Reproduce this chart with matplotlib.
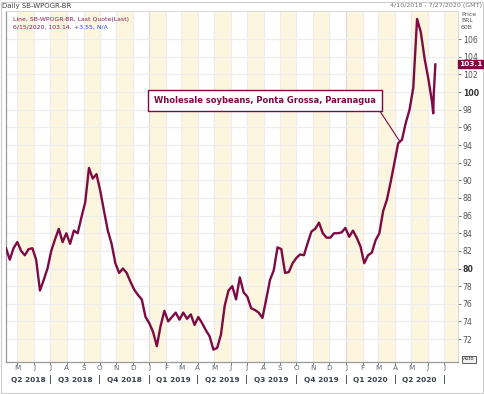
import numpy as np
import matplotlib.pyplot as plt
import matplotlib.transforms as mtransforms
import pandas as pd

# weekly closes (BRL per 60kg bag), first one on 2018-04-10
first_day = "2018-04-10"
last_day = "2020-07-27"
weekly_close = [82.3, 81.0, 82.3, 83.0, 82.0, 81.5, 82.2, 82.3, 81.0, 77.5,
                78.7, 80.0, 82.0, 83.3, 84.5, 83.0, 84.0, 82.8, 84.3, 84.0,
                85.8, 87.5, 91.4, 90.2, 90.7, 88.8, 86.5, 84.3, 82.8, 80.6,
                79.5, 80.0, 79.5, 78.5, 77.6, 77.0, 76.5, 74.5, 73.8, 72.8,
                71.2, 73.5, 75.2, 74.0, 74.5, 75.0, 74.2, 75.0, 74.3, 74.8,
                73.6, 74.5, 73.8, 73.0, 72.3, 70.8, 71.0, 72.5, 75.8, 77.5,
                78.0, 76.5, 79.0, 77.3, 76.8, 75.5, 75.3, 75.0, 74.4, 76.5,
                78.7, 79.8, 82.4, 82.2, 79.5, 79.6, 80.6, 81.2, 81.6, 81.5,
                82.9, 84.2, 84.5, 85.2, 84.0, 83.5, 83.5, 84.0, 84.0, 84.1,
                84.6, 83.6, 84.3, 83.5, 82.5, 80.6, 81.5, 81.8, 83.2, 84.0,
                86.5, 87.8, 89.8, 92.0, 94.2, 94.6, 96.5, 98.0, 100.5, 108.3,
                106.8, 103.8, 101.5, 98.8]
tail_dates = ["2020-06-11", "2020-06-12", "2020-06-15"]
tail_close = [97.6, 99.8, 103.14]

y_ticks = list(range(72, 107, 2))
bold_ticks = [80, 100]
quarter_names = ["Q2 2018", "Q3 2018", "Q4 2018", "Q1 2019", "Q2 2019",
                 "Q3 2019", "Q4 2019", "Q1 2020", "Q2 2020"]
note_text = "Wholesale soybeans, Ponta Grossa, Paranagua"
note_date = "2020-04-10"
note_value = 94.4

maroon = "#7d0a42"
shade = "#fdf6df"

dates = list(pd.date_range(first_day, periods=len(weekly_close), freq="7D")) + list(pd.to_datetime(tail_dates))
close = weekly_close + tail_close
df = pd.DataFrame({"date": dates, "close": close})

W, H = 484, 394
fig = plt.figure(figsize=(W / 100, H / 100), dpi=100)
fig.patch.set_facecolor("white")
ax = fig.add_axes([6 / W, 32 / H, 452 / W, 351 / H])

x0 = pd.Timestamp(first_day)
x1 = pd.Timestamp(last_day)
months = pd.date_range("2018-05-01", "2020-07-01", freq="MS")

# alternate month shading
for m in months:
    if m.month % 2 == 1:
        ax.axvspan(m, m + pd.offsets.MonthBegin(1), color=shade, lw=0, zorder=0)

for m in months:
    ax.axvline(m, color="#dcdcdc" if m.month == 1 else "#ededed", lw=0.9, zorder=1)
for v in y_ticks:
    ax.axhline(v, color="#ededed", lw=0.9, zorder=1)

ax.plot(df["date"], df["close"], color=maroon, lw=1.7, zorder=3)

ax.set_xlim(x0, x1)
ax.set_ylim(69.4, 109.2)

ax.set_xticks(months)
ax.set_xticklabels([m.strftime("%b")[0] for m in months])
ax.tick_params(axis="x", length=2, width=0.7, color="#777777", labelsize=5.2,
               labelcolor="#5a6478", pad=0.5)
ax.yaxis.tick_right()
ax.set_yticks(y_ticks)
ax.set_yticklabels([str(v) for v in y_ticks])
ax.tick_params(axis="y", length=2.5, width=0.7, color="#777777", labelsize=5.6,
               labelcolor="#555555", pad=1)
for lab, v in zip(ax.get_yticklabels(), y_ticks):
    if v in bold_ticks:
        lab.set_fontweight("bold")
        lab.set_color("#333333")

for side in ["top", "right"]:
    ax.spines[side].set_color("#d8d8d8")
    ax.spines[side].set_linewidth(0.7)
for side in ["left", "bottom"]:
    ax.spines[side].set_color("#999999")
    ax.spines[side].set_linewidth(0.9)

# quarter labels under the month letters
trans = mtransforms.blended_transform_factory(ax.transData, fig.transFigure)
q_starts = pd.date_range("2018-04-01", "2020-07-01", freq="QS")
qy = 1 - 380 / H
for i, name in enumerate(quarter_names):
    a = max(q_starts[i], x0)
    b = min(q_starts[i + 1], x1)
    mid = a + (b - a) / 2
    ax.text(mid, qy, name, transform=trans, ha="center", va="center",
            fontsize=5.3, fontweight="bold", color="#3a3f4a")
for q in q_starts[1:]:
    ax.text(q, qy, "|", transform=trans, ha="center", va="center",
            fontsize=5.5, fontweight="bold", color="#3a3f4a")

# header texts
fig.text(2 / W, 1 - 6 / H, "Daily SB-WPOGR-BR", fontsize=5, color="#444444", va="center")
fig.text(482 / W, 1 - 6 / H, "4/10/2018 - 7/27/2020 (GMT)", fontsize=4.6,
         color="#777777", va="center", ha="right")
fig.text(13 / W, 1 - 19 / H, "Line, SB-WPOGR-BR, Last Quote(Last)", fontsize=4.4,
         color="#8a1d52", va="center")
t1 = fig.text(13 / W, 1 - 27 / H, "6/15/2020, 103.14, ", fontsize=4.4,
              color="#8a1d52", va="center")
ax.annotate("+3.55, N/A", xy=(1, 0), xycoords=t1, fontsize=4.4, color="#2a4fd6",
            va="bottom", ha="left", annotation_clip=False)

fig.text(461 / W, 1 - 21 / H, "Price\nBRL\n60B", fontsize=4.4, color="#555555",
         va="center", ha="left", linespacing=1.35)

# last value flag
fig.text(470.5 / W, 1 - 64 / H, "103.1", fontsize=5.3, fontweight="bold", color="white",
         ha="center", va="center",
         bbox=dict(boxstyle="square,pad=0.1", fc=maroon, ec=maroon))
fig.text(469 / W, 1 - 359 / H, "Auto", fontsize=3.6, color="#333333",
         ha="center", va="center",
         bbox=dict(boxstyle="square,pad=0.2", fc="#f0f0f0", ec="#444444", lw=0.6))

# callout
ax.annotate(note_text, xy=(pd.Timestamp(note_date), note_value),
            xytext=(265, H - 100.5), textcoords="figure pixels",
            ha="center", va="center", fontsize=6, fontweight="bold", color=maroon,
            bbox=dict(boxstyle="square,pad=0.75", fc="white", ec=maroon, lw=1),
            arrowprops=dict(arrowstyle="-", color=maroon, lw=0.8,
                            relpos=(1, 0), shrinkA=0, shrinkB=0),
            zorder=5)

# outer frame
fig.add_artist(plt.Rectangle((0.5 / W, 1.5 / H), 482.5 / W, 391 / H,
                             transform=fig.transFigure, fill=False,
                             ec="#cccccc", lw=0.8))

fig.savefig("out.png", dpi=100)
